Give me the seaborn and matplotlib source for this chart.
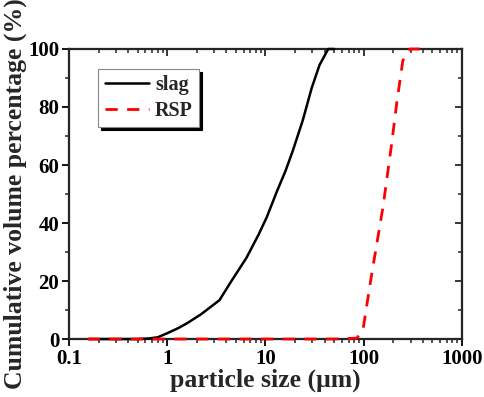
"""Cumulative particle size distribution of slag and RSP."""
import matplotlib
matplotlib.use("Agg")
import matplotlib.pyplot as plt
import seaborn as sns
import pandas as pd
import numpy as np

# %%
# values
slag_size = [0.16, 0.3, 0.5, 0.65, 0.8, 1.0, 1.3, 1.6, 2.2, 3.4, 4.5, 6.4, 8.5,
             10.3, 13.1, 16.0, 19.0, 24.0, 29.5, 35.5, 43.5, 50.0]
slag_cum = [0.0, 0.0, 0.0, 0.2, 0.6, 2.0, 3.8, 5.5, 8.5, 13.4, 20.0, 28.0, 36.0,
            42.0, 51.0, 58.0, 65.0, 75.5, 86.5, 94.5, 100.0, 100.0]
rsp_size = [0.155, 0.5, 1.0, 10.0, 50.0, 85.0, 98.0, 120.0, 157.0, 190.0, 218.0,
            250.0, 295.0, 370.0]
rsp_cum = [0.0, 0.0, 0.0, 0.0, 0.0, 0.3, 3.0, 22.0, 45.5, 66.0, 82.0, 96.0,
           100.0, 100.0]

df = pd.concat([
    pd.DataFrame({'size': slag_size, 'cum': slag_cum, 'sample': 'slag'}),
    pd.DataFrame({'size': rsp_size, 'cum': rsp_cum, 'sample': 'RSP'}),
])

# %%
sns.set_style('ticks')
plt.rcParams['font.family'] = ['Liberation Serif', 'DejaVu Serif']
plt.rcParams['font.weight'] = 'bold'
plt.rcParams['axes.linewidth'] = 1.5

fig = plt.figure(figsize=(4.84, 3.97), dpi=100)
ax = fig.add_axes([0.1426, 0.146, 0.8119, 0.7306])

# mirrored inward ticks on the top and right, drawn underneath the data axes
top = ax.twiny()
right = ax.twinx()
ax.set_zorder(5)
ax.patch.set_visible(False)

sns.lineplot(data=df[df['sample'] == 'slag'], x='size', y='cum', color='black',
             linewidth=1.8, label='slag', ax=ax, estimator=None, sort=False)
sns.lineplot(data=df[df['sample'] == 'RSP'], x='size', y='cum', color='#ff0000',
             linewidth=2.0, label='RSP', ax=ax, estimator=None, sort=False,
             dashes=False)
ax.lines[1].set_dashes([4.4, 3.4])
for ln in ax.lines:
    ln.set_clip_on(False)
    ln.set_zorder(3)

ax.set_xscale('log')
ax.set_xlim(0.1, 1000)
ax.set_ylim(0, 100)
ax.set_yticks([0, 20, 40, 60, 80, 100])
ax.set_yticks([10, 30, 50, 70, 90], minor=True)
ax.set_xticks([0.1, 1, 10, 100, 1000])
ax.set_xticklabels(['0.1', '1', '10', '100', '1000'])
ax.tick_params(which='major', direction='out', length=5, width=1.3,
               labelsize=15, pad=2, colors='black')
ax.tick_params(which='minor', direction='out', length=3, width=1.1)

ax.set_xlabel('particle size (\u03bcm)', fontsize=18.5, fontweight='bold', labelpad=0)
ax.set_ylabel('Cumulative volume percentage (%)', fontsize=18.5, fontweight='bold',
              labelpad=1)

top.set_xscale('log')
top.set_xlim(ax.get_xlim())
top.set_xticks([0.1, 1, 10, 100, 1000])
top.tick_params(which='major', direction='in', length=5, width=1.3, labeltop=False)
top.tick_params(which='minor', direction='in', length=3, width=1.1)
right.set_ylim(ax.get_ylim())
right.set_yticks([0, 20, 40, 60, 80, 100])
right.set_yticks([10, 30, 50, 70, 90], minor=True)
right.tick_params(which='major', direction='in', length=5, width=1.3, labelright=False)
right.tick_params(which='minor', direction='in', length=3, width=1.1)

leg = ax.legend(loc='upper left', bbox_to_anchor=(0.075, 0.93), borderaxespad=0,
                fontsize=14.5, frameon=True, fancybox=False, edgecolor='#888888',
                shadow={'color': 'black', 'alpha': 1.0}, handlelength=2.2,
                borderpad=0.3, labelspacing=0.3, handletextpad=0.3)
leg.get_frame().set_linewidth(0.8)
leg.get_frame().set_alpha(1.0)
leg.get_lines()[1].set_dashes([4.4, 3.4])

plt.savefig('out.png', dpi=100)
